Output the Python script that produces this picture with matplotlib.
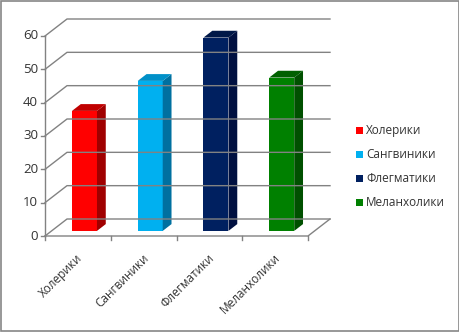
import matplotlib
matplotlib.use('Agg')
import matplotlib.pyplot as plt
from matplotlib.patches import Polygon, Rectangle

# data
categories = ['Холерики', 'Сангвиники', 'Флегматики', 'Меланхолики']
values = [36, 45, 58, 46]
y_ticks = [0, 10, 20, 30, 40, 50, 60]
front_colors = ['#FF0000', '#00B0F0', '#002060', '#008000']
side_colors = ['#A00000', '#0070A0', '#001040', '#005000']
top_colors = ['#C00000', '#0090C8', '#001848', '#006000']

plt.rcParams['font.family'] = ['Open Sans', 'DejaVu Sans']

W, H = 460, 333
fig = plt.figure(figsize=(W / 100, H / 100), dpi=100)
ax = fig.add_axes([0, 0, 1, 1])

# pixel layout of the front plane: x origin at px 45, 1 category = 65.75 px
# value 0 at py 236, 3.333 px per unit
px_cat = 65.75
px_val = 200 / 60
x0_px, y0_px = 45, 236
ax.set_xlim(-x0_px / px_cat, (W - x0_px) / px_cat)
ax.set_ylim((y0_px - H) / px_val, y0_px / px_val)
ax.axis('off')

# oblique depth vector (22 px right, 17 px up)
DX = 22 / px_cat
DV = 17 / px_val

def proj(x, v, d):
    return (x + d * DX, v + d * DV)

grid_col = '#828282'
text_col = '#333333'
n = len(categories)
ymax = y_ticks[-1]

# back wall gridlines and side wall lines
for t in y_ticks:
    a = proj(0, t, 0)
    b = proj(0, t, 1)
    c = proj(n, t, 1)
    ax.plot([a[0], b[0], c[0]], [a[1], b[1], c[1]], color=grid_col, lw=1)
    ax.plot([a[0] - 4 / px_cat, a[0]], [a[1], a[1]], color=grid_col, lw=1)
    ax.text(a[0] - 7 / px_cat, t, str(t), ha='right', va='center',
            fontsize=9.5, color=text_col)

# front vertical axis
ax.plot([0, 0], [0, ymax], color=grid_col, lw=1)
# floor front edge and right edge
fr = proj(n, 0, 0)
br = proj(n, 0, 1)
ax.plot([0, fr[0], br[0]], [0, fr[1], br[1]], color=grid_col, lw=1)
# category ticks
for i in range(n + 1):
    ax.plot([i, i], [0, -4 / px_val], color=grid_col, lw=1)

# bars
bw = 0.38
d0, d1 = 0.3, 0.7
for i, v in enumerate(values):
    xl = i + (1 - bw) / 2
    xr = xl + bw
    # front face
    p = [proj(xl, 0, d0), proj(xr, 0, d0), proj(xr, v, d0), proj(xl, v, d0)]
    ax.add_patch(Polygon(p, closed=True, fc=front_colors[i], ec='none'))
    # side face
    p = [proj(xr, 0, d0), proj(xr, 0, d1), proj(xr, v, d1), proj(xr, v, d0)]
    ax.add_patch(Polygon(p, closed=True, fc=side_colors[i], ec='none'))
    # top face
    p = [proj(xl, v, d0), proj(xr, v, d0), proj(xr, v, d1), proj(xl, v, d1)]
    ax.add_patch(Polygon(p, closed=True, fc=top_colors[i], ec='none'))
    # category label
    ax.text(i + 0.5 + 3 / px_cat, -20 / px_val, categories[i], rotation=45,
            rotation_mode='anchor', ha='right', va='center',
            fontsize=8.5, color=text_col)

# legend (pixel positions converted to data coords)
def to_data(px, py):
    return ((px - x0_px) / px_cat, (y0_px - py) / px_val)

for i, name in enumerate(categories):
    py = 130.5 + i * 24
    sx, sy = to_data(356, py + 3.5)
    ax.add_patch(Rectangle((sx, sy), 7 / px_cat, 7 / px_val,
                           fc=front_colors[i], ec='none'))
    tx, ty = to_data(366, py)
    ax.text(tx, ty, name, ha='left', va='center', fontsize=8.5, color=text_col)

# outer border
bx0, by0 = to_data(1, 331)
bx1, by1 = to_data(458.5, 1)
ax.add_patch(Rectangle((bx0, by0), bx1 - bx0, by1 - by0, fc='none',
                       ec='#868686', lw=1.2))

fig.savefig('out.png', dpi=100)
